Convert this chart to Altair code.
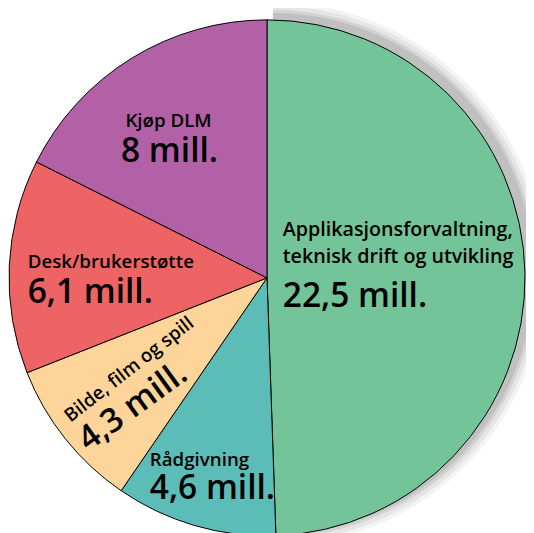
import altair as alt
import pandas as pd

categories = ["Applikasjonsforvaltning, teknisk drift og utvikling", "Rådgivning",
              "Bilde, film og spill", "Desk/brukerstøtte", "Kjøp DLM"]
name_labels = ["Applikasjonsforvaltning,\nteknisk drift og utvikling", "Rådgivning",
               "Bilde, film og spill", "Desk/brukerstøtte", "Kjøp DLM"]
values = [22.5, 4.6, 4.3, 6.1, 8.0]
value_labels = ["22,5 mill.", "4,6 mill.", "4,3 mill.", "6,1 mill.", "8 mill."]
colors = ["#74C49A", "#5CBDB8", "#FDD59B", "#EE6363", "#B261A6"]

df = pd.DataFrame({
    "category": categories,
    "name": name_labels,
    "value": values,
    "vlabel": value_labels,
    "order": list(range(len(categories))),
})

W, H = 526, 525
CX, CY, R = 263, 270, 262
FONT = "Open Sans"
S, L = 20, 34

base = alt.Chart(df)

# soft drop shadow towards the upper right
shadows = []
for dr, op in [(14, 0.07), (10, 0.09), (6, 0.12), (3, 0.15)]:
    shadows.append(
        base.transform_filter(alt.datum.order == 0).mark_arc(
            color="#555555", opacity=op
        ).encode(
            theta=alt.Theta("value:Q"),
            radius=alt.value(R + dr),
            x=alt.value(CX + 6), y=alt.value(CY - 4),
        )
    )

pie = base.mark_arc(outerRadius=R, stroke="black", strokeWidth=1).encode(
    theta=alt.Theta("value:Q", stack=True),
    order=alt.Order("order:Q"),
    color=alt.Color("category:N", scale=alt.Scale(domain=categories, range=colors), legend=None),
    x=alt.value(CX), y=alt.value(CY),
)

def lab(cat_idx, field, x, y, size, align="left", baseline="alphabetic", angle=0, lh=None):
    kw = dict(font=FONT, fontSize=size, fontWeight=600, align=align, baseline=baseline, color="black")
    if angle:
        kw["angle"] = angle
    if lh:
        kw["lineBreak"] = "\n"
        kw["lineHeight"] = lh
    return base.transform_filter(alt.datum.order == cat_idx).mark_text(**kw).encode(
        text=f"{field}:N", x=alt.value(x - 8), y=alt.value(y - 8)
    )

texts = [
    lab(0, "name", 287, 235, S, lh=28),
    lab(0, "vlabel", 287, 308, L),
    lab(1, "name", 152, 469, S - 1),
    lab(1, "vlabel", 152, 503, L),
    lab(2, "name", 131, 371, S - 1, align="center", baseline="middle", angle=322),
    lab(2, "vlabel", 135, 409, L, align="center", baseline="middle", angle=324),
    lab(3, "name", 28, 268, S - 1),
    lab(3, "vlabel", 28, 303, L),
    lab(4, "name", 171, 125, S - 1, align="center"),
    lab(4, "vlabel", 172, 160, L, align="center"),
]

chart = alt.layer(*shadows, pie, *texts).properties(
    width=W, height=H, padding=0, autosize=alt.AutoSizeParams(type="none")
).configure_view(stroke=None)

chart.save("out.html", embed_options={"renderer": "svg", "actions": False})
